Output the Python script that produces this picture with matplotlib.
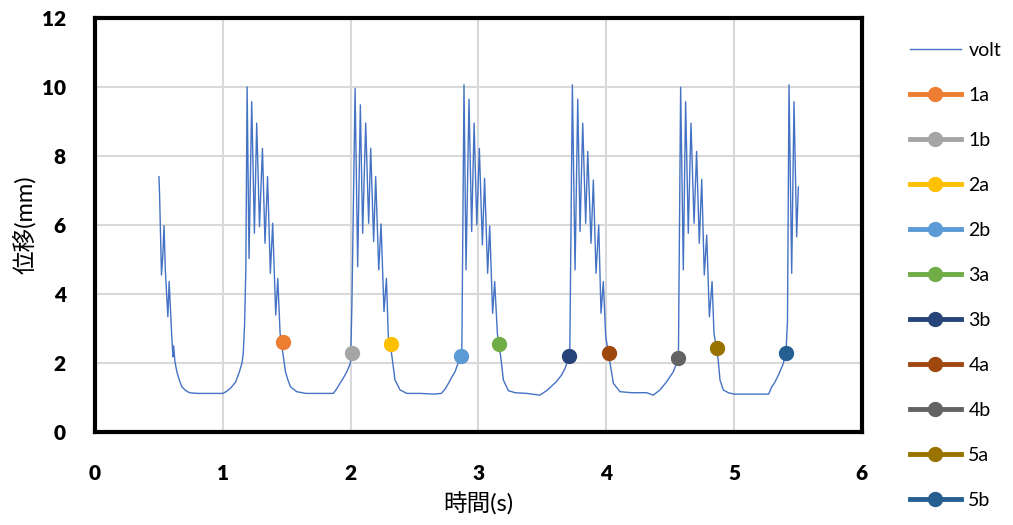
import matplotlib.pyplot as plt

plt.rcParams['font.family'] = ['Lato', 'Noto Sans CJK JP', 'DejaVu Sans']

# ─── 波形データ (時間 s, 位移 mm) ───────────────────────────────────────────

volt_t = [
    0.500, 0.505, 0.520, 0.530, 0.540, 0.550, 0.570, 0.580, 0.590, 0.600,
    0.610, 0.615, 0.625, 0.640, 0.660, 0.680, 0.710, 0.740, 0.800, 0.900,
    1.000, 1.030, 1.060, 1.100, 1.130, 1.150, 1.160, 1.170, 1.180, 1.190,
    1.205, 1.226, 1.247, 1.265, 1.287, 1.310, 1.330, 1.350, 1.372, 1.390,
    1.414, 1.430, 1.448, 1.474, 1.490, 1.510, 1.530, 1.578, 1.650, 1.760,
    1.865, 1.890, 1.917, 1.945, 1.970, 1.990, 2.000, 2.010, 2.035,
    2.055, 2.076, 2.094, 2.118, 2.141, 2.157, 2.180, 2.196, 2.220, 2.238,
    2.261, 2.280, 2.295, 2.320, 2.347, 2.387, 2.440, 2.550, 2.650, 2.710,
    2.740, 2.765, 2.790, 2.817, 2.850, 2.870, 2.887,
    2.903, 2.926, 2.947, 2.966, 2.987, 3.007, 3.031, 3.048, 3.072, 3.088,
    3.111, 3.127, 3.148, 3.174, 3.195, 3.234, 3.287, 3.380, 3.480, 3.534,
    3.610, 3.650, 3.678, 3.700, 3.715, 3.735,
    3.756, 3.777, 3.795, 3.816, 3.839, 3.855, 3.881, 3.899, 3.920, 3.941,
    3.959, 3.977, 3.996, 4.030, 4.056, 4.108, 4.200, 4.316, 4.368, 4.420,
    4.473, 4.525, 4.550, 4.565, 4.582,
    4.603, 4.621, 4.642, 4.663, 4.687, 4.707, 4.728, 4.747, 4.767, 4.786,
    4.807, 4.828, 4.843, 4.876, 4.890, 4.916, 4.955, 5.000, 5.150, 5.270,
    5.295, 5.320, 5.347, 5.386, 5.407, 5.418, 5.430,
    5.451, 5.469, 5.490, 5.503,
]
volt_v = [
    7.40, 6.90, 4.55, 5.10, 5.98, 4.70, 3.34, 4.36, 3.60, 2.80,
    2.18, 2.50, 2.05, 1.75, 1.50, 1.31, 1.20, 1.14, 1.12, 1.12,
    1.12, 1.18, 1.27, 1.45, 1.75, 2.00, 2.29, 3.10, 4.70, 10.00,
    5.03, 9.57, 5.76, 8.95, 5.95, 8.22, 5.47, 7.40, 4.60, 6.05,
    3.39, 4.45, 2.86, 2.18, 1.75, 1.50, 1.31, 1.17, 1.12, 1.12,
    1.12, 1.25, 1.41, 1.58, 1.75, 1.92, 2.04, 3.73, 9.96,
    4.79, 9.48, 5.76, 8.95, 6.05, 8.22, 5.52, 7.40, 4.70, 6.03,
    3.49, 4.45, 2.76, 2.28, 1.51, 1.22, 1.12, 1.12, 1.10, 1.12,
    1.25, 1.41, 1.58, 1.75, 2.09, 2.30, 10.06,
    4.70, 9.64, 5.81, 8.95, 6.00, 8.22, 5.42, 7.35, 4.60, 5.97,
    3.44, 4.36, 2.86, 2.19, 1.51, 1.20, 1.14, 1.12, 1.07, 1.20,
    1.46, 1.65, 1.85, 2.09, 2.40, 10.06,
    4.70, 9.64, 5.81, 8.95, 6.05, 8.13, 5.47, 7.30, 4.60, 6.00,
    3.44, 4.36, 2.76, 1.99, 1.41, 1.17, 1.14, 1.14, 1.07, 1.22,
    1.46, 1.75, 1.99, 2.30, 9.99,
    4.70, 9.57, 5.76, 8.95, 6.05, 8.13, 5.47, 7.32, 4.55, 5.71,
    3.34, 4.36, 2.86, 2.09, 1.51, 1.22, 1.14, 1.10, 1.10, 1.10,
    1.31, 1.45, 1.65, 1.99, 2.38, 3.20, 10.06,
    4.60, 9.57, 5.66, 7.10,
]

# ─── 特徴点 ──────────────────────────────────────────────────────────────────

point_names = ['1a', '1b', '2a', '2b', '3a', '3b', '4a', '4b', '5a', '5b']
point_t = [1.470, 2.010, 2.316, 2.860, 3.160, 3.710, 4.020, 4.560, 4.865, 5.410]
point_v = [2.62, 2.28, 2.54, 2.21, 2.54, 2.21, 2.29, 2.14, 2.45, 2.28]
point_colors = ['#ED7D31', '#A5A5A5', '#FFC000', '#5B9BD5', '#70AD47',
                '#264478', '#9E480E', '#636363', '#997300', '#255E91']

fig = plt.figure(figsize=(10.13, 5.25), dpi=100)
ax = fig.add_axes([0.0938, 0.177, 0.757, 0.789])

ax.plot(volt_t, volt_v, color='#4472C4', linewidth=1.0, label='volt', zorder=3)
for name, t, v, c in zip(point_names, point_t, point_v, point_colors):
    ax.plot([t], [v], marker='o', markersize=10, color=c, linewidth=3.5,
            label=name, zorder=4)

ax.set_xlim(0, 6)
ax.set_ylim(0, 12)
ax.set_xticks(range(0, 7))
ax.set_yticks(range(0, 13, 2))
ax.grid(True, color='#D9D9D9', linewidth=1.5)
ax.set_axisbelow(True)
ax.tick_params(length=0, labelsize=15)
ax.tick_params(axis='y', pad=21)
ax.tick_params(axis='x', pad=23)
for lbl in ax.get_xticklabels() + ax.get_yticklabels():
    lbl.set_fontweight('heavy')
for sp in ax.spines.values():
    sp.set_linewidth(3)
    sp.set_color('black')

ax.set_xlabel('時間(s)', fontsize=17, labelpad=7)
ax.set_ylabel('位移(mm)', fontsize=17, labelpad=4)

ax.legend(loc='upper left', bbox_to_anchor=(1.045, 0.975), frameon=False,
          fontsize=14, handlelength=2.6, labelspacing=1.44,
          handletextpad=0.4, borderaxespad=0.3)

fig.savefig('out.png', dpi=100)
